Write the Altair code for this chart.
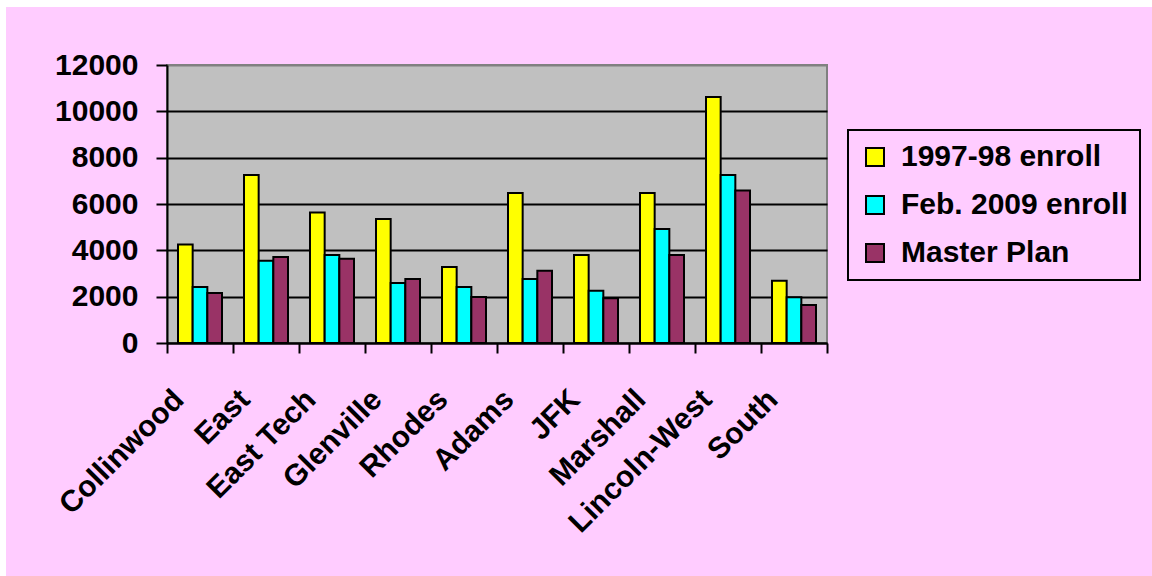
import altair as alt
import pandas as pd

# School names along the x axis, in display order
schools = ["Collinwood", "East", "East Tech", "Glenville", "Rhodes",
           "Adams", "JFK", "Marshall", "Lincoln-West", "South"]

# Series shown side by side for every school
series_names = ["1997-98 enroll", "Feb. 2009 enroll", "Master Plan"]
series_colors = ["#FFFF00", "#00FFFF", "#993366"]

enroll_1997 = [4250, 7250, 5630, 5350, 3280, 6480, 3800, 6480, 10620, 2690]
enroll_2009 = [2420, 3550, 3800, 2590, 2420, 2760, 2260, 4920, 7250, 1970]
master_plan = [2160, 3710, 3640, 2760, 1990, 3120, 1930, 3800, 6580, 1640]

y_ticks = [0, 2000, 4000, 6000, 8000, 10000, 12000]

rows = []
for name, vals in zip(series_names, [enroll_1997, enroll_2009, master_plan]):
    for school, v in zip(schools, vals):
        rows.append({"school": school, "series": name, "value": v})
df = pd.DataFrame(rows)

FONT = "Liberation Sans"
FONT_SIZE = 30
PINK = "#FFCCFF"

bars = alt.Chart(df).mark_bar(stroke="black", strokeWidth=2).encode(
    x=alt.X(
        "school:N",
        sort=schools,
        scale=alt.Scale(paddingInner=0, paddingOuter=0),
        axis=alt.Axis(
            title=None, labelAngle=-45, labelAlign="right", labelBaseline="top",
            tickBand="extent", tickSize=10, tickWidth=2, tickColor="black",
            labelPadding=31, labelOffset=-32,
            domainColor="black", domainWidth=2,
            labelFont=FONT, labelFontSize=FONT_SIZE, labelFontWeight="bold",
            labelColor="black", grid=False, labelLimit=400,
        ),
    ),
    xOffset=alt.XOffset(
        "series:N", sort=series_names,
        scale=alt.Scale(paddingInner=0, paddingOuter=0.75),
    ),
    y=alt.Y(
        "value:Q",
        scale=alt.Scale(domain=[0, 12000], nice=False),
        axis=alt.Axis(
            title=None, values=y_ticks, format="d",
            grid=True,
            gridColor=alt.condition("datum.value == 12000", alt.value("#808080"), alt.value("black")),
            gridWidth=2,
            tickSize=11, tickWidth=2, tickColor="black",
            domainColor="black", domainWidth=2, labelPadding=18,
            labelFont=FONT, labelFontSize=FONT_SIZE, labelFontWeight="bold",
            labelColor="black",
        ),
    ),
    color=alt.Color(
        "series:N",
        sort=series_names,
        scale=alt.Scale(domain=series_names, range=series_colors),
        legend=alt.Legend(
            title=None, orient="none", legendX=681, legendY=65,
            symbolType="square", symbolSize=324,
            symbolStrokeColor="black", symbolStrokeWidth=2,
            labelFont=FONT, labelFontSize=FONT_SIZE, labelFontWeight="bold",
            labelColor="black", labelOffset=11, labelLimit=400,
            rowPadding=18, padding=12,
            strokeColor="black", fillColor=PINK,
        ),
    ),
)

# thin white frame along the top and left edges of the page
frame = alt.Chart(pd.DataFrame({"k": [0]}))
top_strip = frame.mark_rect(color="white").encode(
    x=alt.value(-167), x2=alt.value(985), y=alt.value(-65), y2=alt.value(-58)
)
left_strip = frame.mark_rect(color="white").encode(
    x=alt.value(-167), x2=alt.value(-161), y=alt.value(-65), y2=alt.value(511)
)

chart = alt.layer(top_strip, left_strip, bars).properties(
    width=660,
    height=278,
    autosize=alt.AutoSizeParams(type="none"),
    padding={"left": 167, "top": 65, "right": 325, "bottom": 233},
    background=PINK,
).configure_view(
    fill="#C0C0C0", stroke="#808080", strokeWidth=2,
).configure_legend(
    strokeWidth=2,
)

chart.save("out.html", embed_options={"renderer": "svg", "actions": False})
